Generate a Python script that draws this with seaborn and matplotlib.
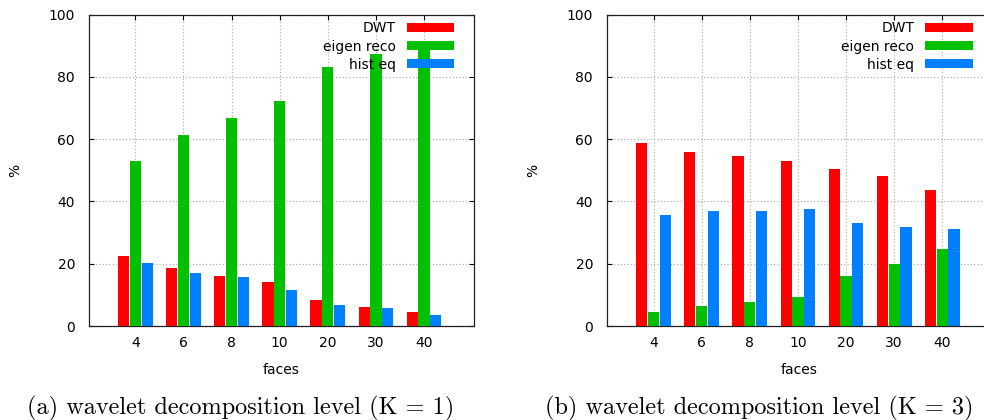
import matplotlib
matplotlib.use("Agg")
import matplotlib.pyplot as plt
from matplotlib.patches import Patch
import numpy as np
import pandas as pd
import seaborn as sns

faces = ["4", "6", "8", "10", "20", "30", "40"]
methods = ["DWT", "eigen reco", "hist eq"]

k1_dwt = [22.4, 18.6, 15.9, 14.1, 8.3, 6.1, 4.5]
k1_eigen = [53.1, 61.2, 66.7, 72.1, 83.1, 87.3, 90.5]
k1_hist = [20.3, 17.0, 15.7, 11.5, 6.8, 5.8, 3.5]

k3_dwt = [58.7, 56.0, 54.7, 52.9, 50.5, 48.0, 43.6]
k3_eigen = [4.5, 6.5, 7.6, 9.2, 15.9, 19.9, 24.8]
k3_hist = [35.7, 37.0, 36.8, 37.5, 33.1, 31.8, 31.3]

colors = ["#ff0000", "#00c000", "#0080ff"]
captions = ["(a) wavelet decomposition level (K = 1)",
            "(b) wavelet decomposition level (K = 3)"]
y_ticks = [0, 20, 40, 60, 80, 100]


def long_df(dwt, eigen, hist):
    rows = []
    for m, vals in zip(methods, [dwt, eigen, hist]):
        for f, v in zip(faces, vals):
            rows.append({"faces": f, "method": m, "value": v})
    return pd.DataFrame(rows)


df1 = long_df(k1_dwt, k1_eigen, k1_hist)
df3 = long_df(k3_dwt, k3_eigen, k3_hist)

W, H = 984, 420
fig = plt.figure(figsize=(W / 100, H / 100), dpi=100)
ax1 = fig.add_axes([89 / W, 94 / H, 385 / W, 311.5 / H])
ax2 = fig.add_axes([607 / W, 94 / H, 377 / W, 311.5 / H])

px_per_unit = 385 / 8.0
xlims = [(-0.963, -0.963 + 385 / px_per_unit), (-0.967, -0.967 + 377 / px_per_unit)]
label_x = [0.5, (385 / 2) / 377]

for i, (ax, df) in enumerate([(ax1, df1), (ax2, df3)]):
    sns.barplot(data=df, x="faces", y="value", hue="method",
                order=faces, hue_order=methods, palette=colors,
                saturation=1, width=0.735, gap=0.05, errorbar=None,
                linewidth=0, ax=ax, legend=False, zorder=3)
    ax.set_xlim(*xlims[i])
    ax.set_ylim(0, 100)
    ax.set_yticks(y_ticks)
    ax.set_axisbelow(True)
    ax.grid(True, color="#a8a8a8", linestyle=(0, (1, 2)), linewidth=0.8, zorder=0)
    ax.tick_params(direction="in", top=True, right=(i == 0), length=3.5,
                   width=0.8, labelsize=10, colors="black")
    ax.tick_params(axis="x", pad=7)
    ax.tick_params(axis="y", pad=10)
    for s in ax.spines.values():
        s.set_linewidth(0.9)
        s.set_color("#202020")
    if i == 1:
        ax.spines["right"].set_visible(False)

    ax.set_xlabel("faces", fontsize=10, va="center", ha="center")
    ax.xaxis.set_label_coords(label_x[i], (326 - 370) / 311.5)
    ax.set_ylabel("%", fontsize=10, va="center", ha="center")
    ax.yaxis.set_label_coords((15 - 89) / 385 if i == 0 else (533 - 607) / 377, 0.5)

    handles = [Patch(facecolor=c, edgecolor="none") for c in colors]
    ax.legend(handles, methods, loc="upper right",
              bbox_to_anchor=(6.63, 97.8), bbox_transform=ax.transData,
              frameon=False, markerfirst=False, borderpad=0, borderaxespad=0,
              handlelength=3.4, handleheight=0.65, handletextpad=0.8,
              labelspacing=0.3, fontsize=10)

fig.text(241 / W, 6 / H, captions[0], ha="center", va="baseline",
         fontfamily="cmr10", fontsize=17.5)
fig.text(759 / W, 6 / H, captions[1], ha="center", va="baseline",
         fontfamily="cmr10", fontsize=17.5)

fig.savefig("out.png", dpi=100)
